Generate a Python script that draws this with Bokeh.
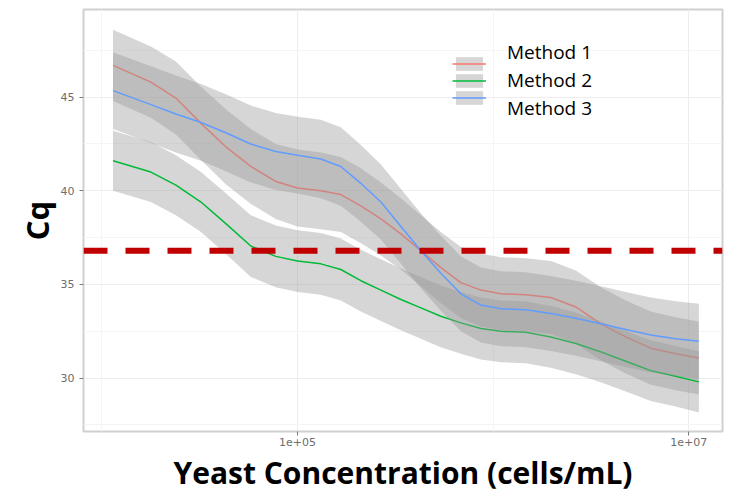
from bokeh.plotting import figure
from bokeh.models import (Range1d, FixedTicker, Span, Legend, LegendItem,
                          ColumnDataSource, CustomJSTickFormatter)
from bokeh.embed import file_html
from bokeh.resources import INLINE

# ---- data ----
conc = [11400, 17800, 23900, 32100, 43000, 57700, 77400, 100000, 131500,
        166400, 210700, 266800, 337600, 427000, 540000, 684000, 865000,
        1094000, 1468000, 1971000, 2645000, 3548000, 4761000, 6388000,
        8570000, 11250000]

method1 = [46.7, 45.8, 44.95, 43.6, 42.35, 41.3, 40.5, 40.15, 40.0, 39.8,
           39.2, 38.5, 37.7, 36.8, 35.9, 35.1, 34.7, 34.5, 34.45, 34.3,
           33.8, 32.9, 32.2, 31.6, 31.3, 31.07]
method1_se = [1.9, 1.9, 1.95, 1.95, 2.0, 2.0, 2.0, 2.05, 2.05, 2.0,
              2.0, 1.95, 1.9, 1.9, 1.9, 1.9, 1.95, 1.95, 1.95, 1.95,
              1.95, 1.95, 1.95, 1.95, 1.95, 1.95]

method2 = [41.6, 41.0, 40.3, 39.4, 38.25, 37.05, 36.5, 36.25, 36.1, 35.8,
           35.2, 34.7, 34.2, 33.75, 33.3, 32.95, 32.65, 32.5, 32.45, 32.2,
           31.85, 31.4, 30.9, 30.4, 30.1, 29.8]
method2_se = [1.6, 1.6, 1.6, 1.6, 1.62, 1.65, 1.65, 1.65, 1.65, 1.65,
              1.65, 1.65, 1.65, 1.65, 1.65, 1.65, 1.65, 1.65, 1.65, 1.65,
              1.65, 1.62, 1.62, 1.62, 1.62, 1.63]

method3 = [45.35, 44.6, 44.1, 43.65, 43.1, 42.5, 42.1, 41.9, 41.7, 41.3,
           40.4, 39.4, 38.1, 36.8, 35.6, 34.5, 33.9, 33.7, 33.65, 33.45,
           33.2, 32.9, 32.6, 32.3, 32.1, 31.97]
method3_se = [2.05, 2.05, 2.05, 2.05, 2.05, 2.05, 2.05, 2.05, 2.1, 2.1,
              2.05, 2.0, 2.0, 2.0, 2.0, 2.0, 2.0, 2.0, 2.0, 2.0,
              2.0, 2.0, 2.0, 2.0, 2.0, 2.0]

labels = ["Method 1", "Method 2", "Method 3"]
colors = ["#F8766D", "#00BA38", "#619CFF"]
threshold = 36.8

x_ticks = [1e5, 1e7]
x_minor = [1e4, 1e6]
y_ticks = [30, 35, 40, 45]
y_minor = [27.5, 32.5, 37.5, 42.5, 47.5]

# ---- figure ----
p = figure(width=731, height=495, x_axis_type="log",
           x_range=Range1d(10 ** 3.906, 10 ** 7.172),
           y_range=Range1d(27.15, 49.68),
           output_backend="svg", toolbar_location=None, title=None,
           min_border_left=83, min_border_right=9,
           min_border_top=9, min_border_bottom=64)

p.background_fill_color = "white"
p.border_fill_color = "white"
p.outline_line_color = "#D0D0D0"
p.outline_line_width = 2

series = [(method1, method1_se), (method2, method2_se), (method3, method3_se)]
bands, lines = [], []
for (vals, se), col in zip(series, colors):
    src = ColumnDataSource(dict(
        x=conc, y=vals,
        lo=[v - s for v, s in zip(vals, se)],
        hi=[v + s for v, s in zip(vals, se)]))
    b = p.varea(x="x", y1="lo", y2="hi", source=src,
                fill_color="#999999", fill_alpha=0.4)
    l = p.line(x="x", y="y", source=src, line_color=col, line_width=1.5)
    bands.append(b)
    lines.append(l)

p.add_layout(Span(location=threshold, dimension="width",
                  line_color="#C00000", line_width=6, line_dash="24 18"))

# ---- axes ----
xt = FixedTicker(ticks=x_ticks, minor_ticks=x_minor)
yt = FixedTicker(ticks=y_ticks, minor_ticks=y_minor)
p.xaxis.ticker = xt
p.yaxis.ticker = yt
p.xgrid.ticker = xt
p.ygrid.ticker = yt
p.xaxis.formatter = CustomJSTickFormatter(
    code="return tick.toExponential(0).replace('e+', 'e+0');")

for ax in (p.xaxis, p.yaxis):
    ax.axis_line_color = None
    ax.major_tick_line_color = "#7A7A7A"
    ax.major_tick_in = 0
    ax.major_tick_out = 4
    ax.minor_tick_line_color = None
    ax.major_label_text_font = "DejaVu Sans"
    ax.major_label_text_font_size = "11px"
    ax.major_label_text_color = "#6E6E6E"
    ax.axis_label_text_font = "Open Sans"
    ax.axis_label_text_font_style = "bold"
    ax.axis_label_text_color = "black"

p.xaxis.axis_label = "Yeast Concentration (cells/mL)"
p.yaxis.axis_label = "Cq"
p.xaxis.axis_label_text_font_size = "30px"
p.yaxis.axis_label_text_font_size = "31px"
p.xaxis.major_label_standoff = 2
p.yaxis.major_label_standoff = 5
p.xaxis.axis_label_standoff = 3
p.yaxis.axis_label_standoff = 0

for g in (p.xgrid, p.ygrid):
    g.grid_line_color = "#EDEDED"
    g.grid_line_width = 1
    g.minor_grid_line_color = "#F5F5F5"
    g.minor_grid_line_width = 1

# ---- legend: keys ----
key_legend = Legend(
    items=[LegendItem(label=" ", renderers=[b, l]) for b, l in zip(bands, lines)],
    location=(369, 325), glyph_width=34, glyph_height=17, label_height=17,
    spacing=0, padding=0, margin=0, label_standoff=0,
    label_text_font_size="8px", border_line_color=None,
    background_fill_alpha=0)
p.add_layout(key_legend)

# ---- legend: labels ----
text_legend = Legend(
    items=[LegendItem(label=t, renderers=[l]) for t, l in zip(labels, lines)],
    location=(424, 309), glyph_width=0, glyph_height=28, label_height=28,
    spacing=0, padding=0, margin=0, label_standoff=0,
    label_text_font="Open Sans", label_text_font_size="19px",
    label_text_color="black", border_line_color=None,
    background_fill_alpha=0)
p.add_layout(text_legend)

open("out.html", "w").write(file_html(p, INLINE))
